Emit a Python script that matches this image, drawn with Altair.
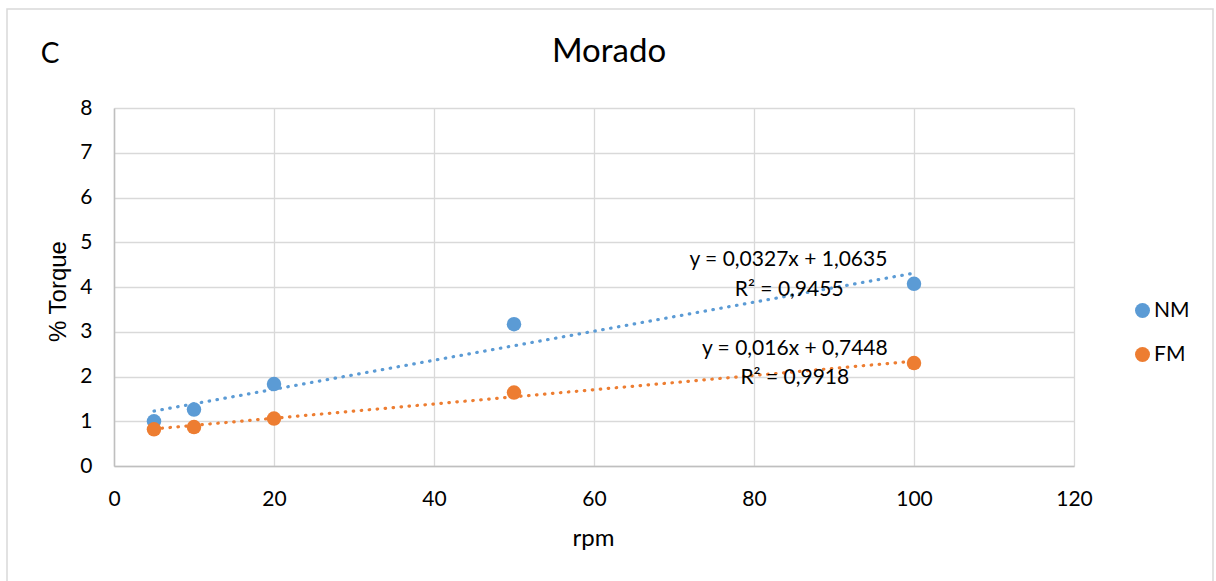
import altair as alt
import pandas as pd

rpm = [5, 10, 20, 50, 100]
nm = [1.00, 1.26, 1.83, 3.17, 4.07]
fm = [0.82, 0.87, 1.06, 1.64, 2.30]
series_names = ["NM", "FM"]
colors = ["#5B9BD5", "#ED7D31"]

eq_text = ["y = 0,0327x + 1,0635", "R² = 0,9455", "y = 0,016x + 0,7448", "R² = 0,9918"]
eq_x = [84.3, 84.4, 85.1, 85.1]
eq_y = [4.60, 3.94, 2.62, 1.96]

FONT = "Lato"

df = pd.DataFrame({
    "rpm": rpm * 2,
    "torque": nm + fm,
    "series": ["NM"] * len(rpm) + ["FM"] * len(rpm),
})
ann = pd.DataFrame({"x": eq_x, "y": eq_y, "t": eq_text})

xscale = alt.Scale(domain=[0, 120], nice=False)
yscale = alt.Scale(domain=[0, 8], nice=False)
cscale = alt.Scale(domain=series_names, range=colors)

legend = alt.Legend(title=None, orient="none", legendX=1018, legendY=192,
                    symbolType="circle", symbolSize=225, symbolStrokeWidth=0,
                    labelFont=FONT, labelFontSize=21, labelColor="#000000",
                    rowPadding=22, labelOffset=1, padding=0)

xaxis = alt.Axis(values=[0, 20, 40, 60, 80, 100, 120], title="rpm", grid=True,
                 gridColor="#D9D9D9", gridWidth=1.3, domainColor="#BFBFBF", domainWidth=1.5,
                 ticks=False, labelFont=FONT, labelFontSize=21, labelColor="#000000",
                 labelBaseline="alphabetic", labelPadding=39, labelFlush=False,
                 titleFont=FONT, titleFontSize=24, titleFontWeight="normal",
                 titleColor="#000000", titleX=479, titleY=79, titleBaseline="alphabetic")
yaxis = alt.Axis(values=list(range(0, 9)), title="% Torque", grid=True,
                 gridColor="#D9D9D9", gridWidth=1.3, domainColor="#BFBFBF", domainWidth=1.5,
                 ticks=False, labelFont=FONT, labelFontSize=21, labelColor="#000000",
                 labelPadding=22, labelFlush=False, titleFont="Liberation Sans", titleFontSize=24,
                 titleFontWeight="normal", titleColor="#000000", titleX=-49, titleY=183,
                 titleAngle=-90, titleAlign="center", titleBaseline="alphabetic")

base = alt.Chart(df)

trend = base.transform_regression("rpm", "torque", groupby=["series"]).mark_line(
    strokeDash=[0.5, 7.5], strokeCap="round", strokeWidth=3.2
).encode(
    x=alt.X("rpm:Q", scale=xscale, axis=xaxis),
    y=alt.Y("torque:Q", scale=yscale, axis=yaxis),
    color=alt.Color("series:N", scale=cscale, sort=series_names, legend=legend),
)

points = base.mark_circle(size=210, opacity=1).encode(
    x=alt.X("rpm:Q", scale=xscale),
    y=alt.Y("torque:Q", scale=yscale),
    color=alt.Color("series:N", scale=cscale, sort=series_names, legend=legend),
)

labels = alt.Chart(ann).mark_text(font=FONT, fontSize=21, color="#000000", align="center",
                                  baseline="middle").encode(
    x=alt.X("x:Q", scale=xscale), y=alt.Y("y:Q", scale=yscale), text="t:N"
)

titles = alt.Chart(pd.DataFrame({"t": ["Morado"]})).mark_text(
    font=FONT, fontSize=33, color="#000000", align="center", baseline="alphabetic"
).encode(x=alt.value(495), y=alt.value(-46), text="t:N")

ctext = alt.Chart(pd.DataFrame({"t": ["C"]})).mark_text(
    font=FONT, fontSize=28, color="#000000", align="center", baseline="alphabetic"
).encode(x=alt.value(-64), y=alt.value(-45), text="t:N")

border = alt.Chart(pd.DataFrame({"a": [0]})).mark_rect(
    fill=None, stroke="#D9D9D9", strokeWidth=1.5
).encode(x=alt.value(-107), x2=alt.value(1099), y=alt.value(-99), y2=alt.value(485))

chart = alt.layer(border, trend, points, labels, titles, ctext).properties(
    width=960, height=358,
    autosize=alt.AutoSizeParams(type="none"),
    padding={"left": 114, "top": 108, "right": 142, "bottom": 115},
    background="#FFFFFF",
).configure_view(stroke=None)

chart.save("out.html", embed_options={"renderer": "svg", "actions": False})
